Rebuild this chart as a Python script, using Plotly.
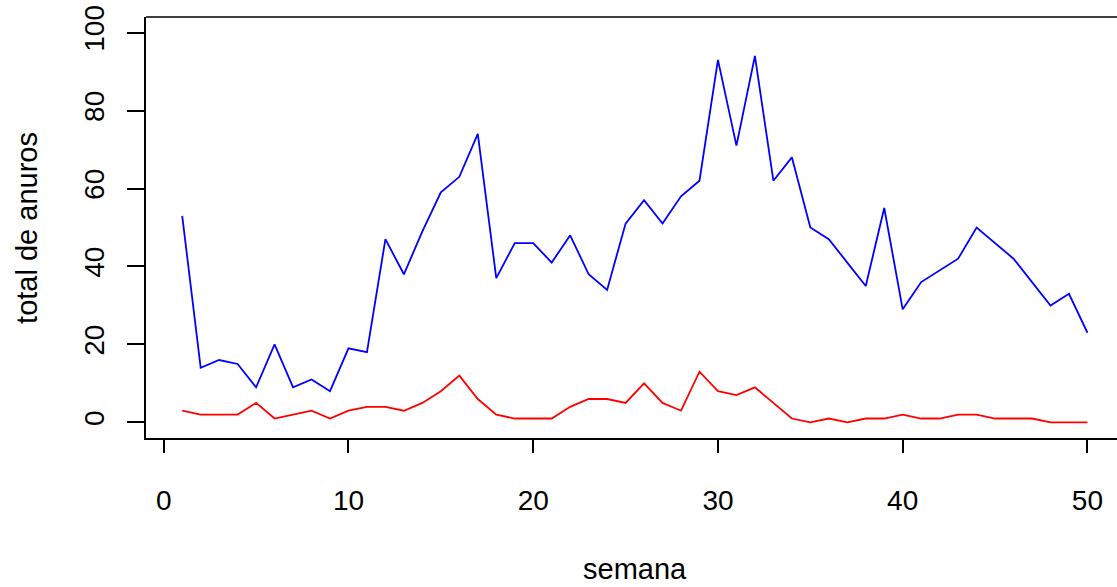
import plotly.graph_objects as go

semana = list(range(1, 51))
total_azul = [53, 14, 16, 15, 9, 20, 9, 11, 8, 19, 18, 47, 38, 49, 59, 63, 74, 37, 46, 46,
              41, 48, 38, 34, 51, 57, 51, 58, 62, 93, 71, 94, 62, 68, 50, 47, 41, 35, 55, 29,
              36, 39, 42, 50, 46, 42, 36, 30, 33, 23]
total_rojo = [3, 2, 2, 2, 5, 1, 2, 3, 1, 3, 4, 4, 3, 5, 8, 12, 6, 2, 1, 1,
              1, 4, 6, 6, 5, 10, 5, 3, 13, 8, 7, 9, 5, 1, 0, 1, 0, 1, 1, 2,
              1, 1, 2, 2, 1, 1, 1, 0, 0, 0]
x_ticks = [0, 10, 20, 30, 40, 50]
y_ticks = [0, 20, 40, 60, 80, 100]

FONT = "Liberation Sans, Arial, sans-serif"

fig = go.Figure()
fig.add_trace(go.Scatter(x=semana, y=total_azul, mode="lines",
                         line=dict(color="#0000FF", width=1.8), showlegend=False))
fig.add_trace(go.Scatter(x=semana, y=total_rojo, mode="lines",
                         line=dict(color="#FF0000", width=1.8), showlegend=False))

W, H = 1117, 587
ml, mt, mb = 146, 17, 149

fig.update_layout(
    width=W, height=H,
    margin=dict(l=ml, r=0, t=mt, b=mb, pad=0),
    paper_bgcolor="white", plot_bgcolor="white",
    font=dict(family=FONT, size=28, color="#000000"),
    xaxis=dict(range=[-0.96, 51.6], tickvals=x_ticks, ticktext=[str(v) for v in x_ticks],
               showgrid=False, zeroline=False, showline=True, linecolor="#000000", linewidth=1.6,
               ticks="outside", ticklen=13, tickwidth=1.6, tickcolor="#000000",
               ticklabelstandoff=24, tickfont=dict(size=28, family=FONT, color="#000000")),
    yaxis=dict(range=[-4, 104], tickvals=y_ticks, ticktext=[str(v) for v in y_ticks],
               showgrid=False, zeroline=False, showline=True, linecolor="#000000", linewidth=1.6,
               ticks="outside", ticklen=17, tickwidth=1.6, tickcolor="#000000",
               tickangle=-90, ticklabelstandoff=12,
               tickfont=dict(size=28, family=FONT, color="#000000")),
    shapes=[dict(type="line", xref="paper", yref="paper", x0=0, x1=1.01, y0=1, y1=1,
                 line=dict(color="#000000", width=1.6))],
    annotations=[
        dict(text="semana", xref="x", yref="paper", x=25.5, y=-0.31,
             xanchor="center", yanchor="middle", showarrow=False,
             font=dict(size=29, family=FONT, color="#000000")),
        dict(text="total de anuros", xref="paper", yref="paper", x=-0.122, y=0.498,
             xanchor="center", yanchor="middle", textangle=-90, showarrow=False,
             font=dict(size=29, family=FONT, color="#000000")),
    ],
)

fig.write_html("out.html")
